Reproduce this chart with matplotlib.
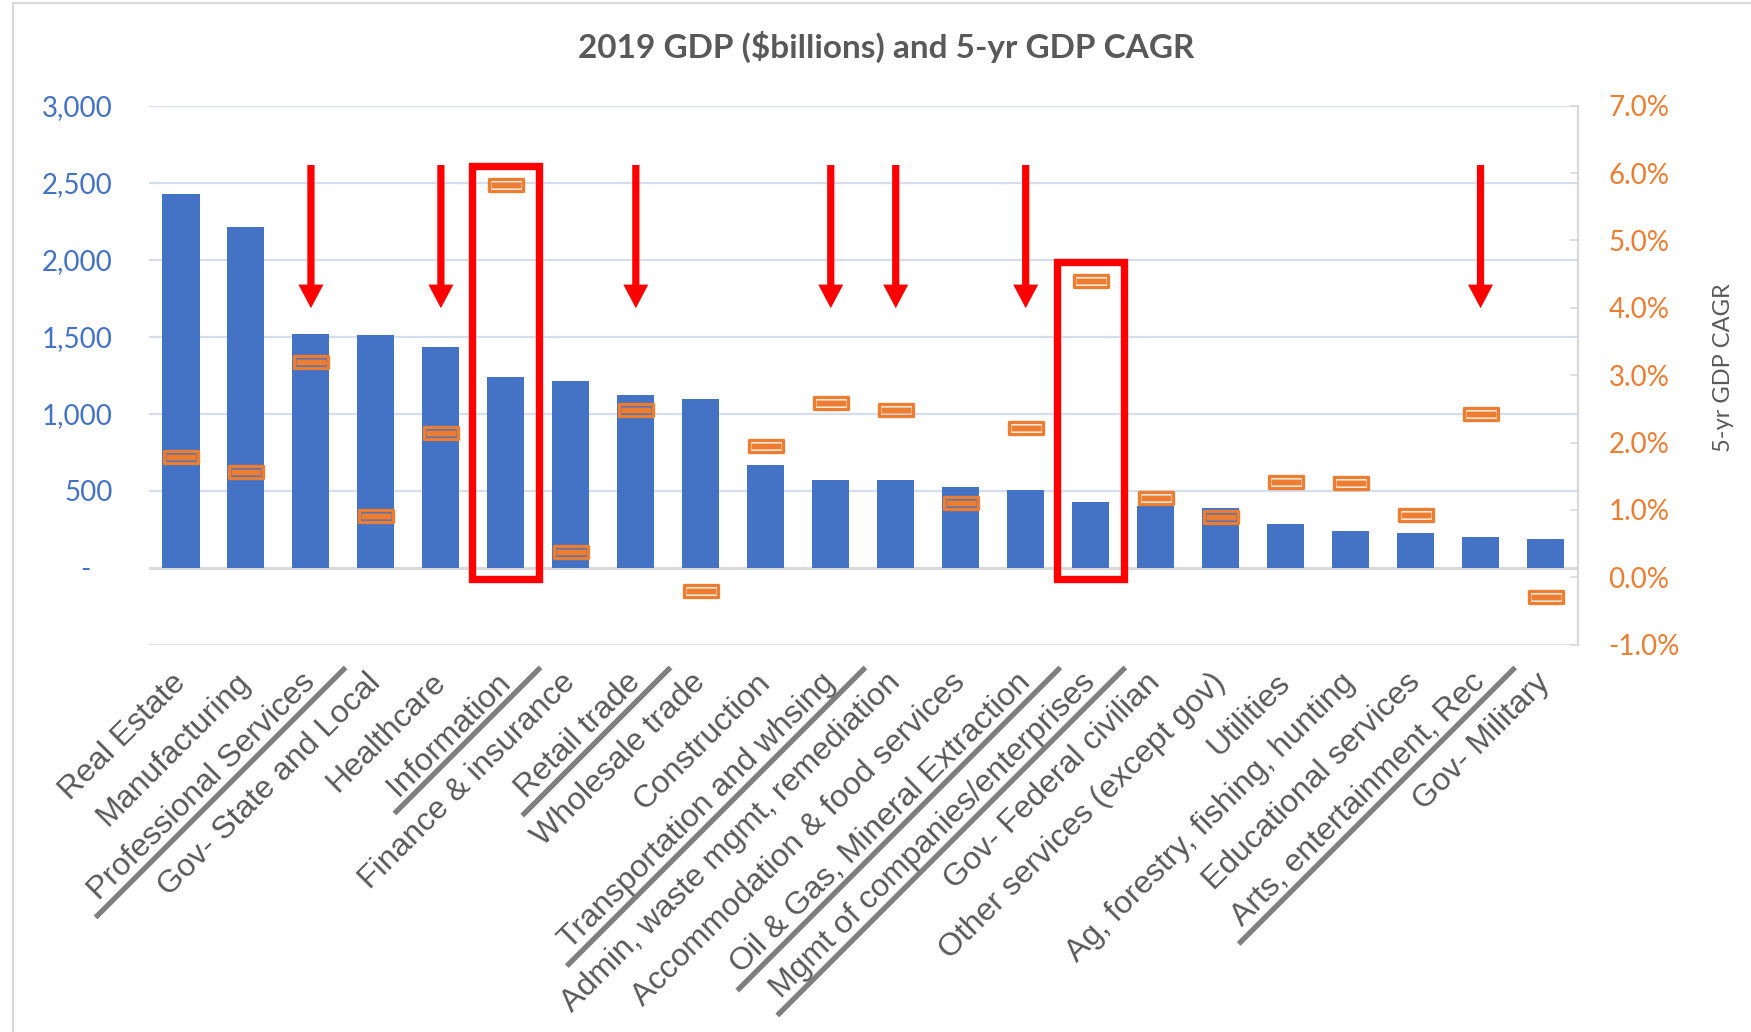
import matplotlib.pyplot as plt
from matplotlib.path import Path
from matplotlib.patches import Rectangle
from matplotlib.lines import Line2D
import numpy as np

# data
categories = ['Real Estate', 'Manufacturing', 'Professional Services', 'Gov- State and Local',
              'Healthcare', 'Information', 'Finance & insurance', 'Retail trade', 'Wholesale trade',
              'Construction', 'Transportation and whsing', 'Admin, waste mgmt, remediation',
              'Accommodation & food services', 'Oil & Gas, Mineral Extraction',
              'Mgmt of companies/enterprises', 'Gov- Federal civilian', 'Other services (except gov)',
              'Utilities', 'Ag, forestry, fishing, hunting', 'Educational services',
              'Arts, entertainment, Rec', 'Gov- Military']
gdp = [2427, 2212, 1518, 1511, 1433, 1240, 1210, 1123, 1094, 667, 572, 572,
       522, 503, 427, 400, 390, 282, 240, 223, 199, 188]
cagr = [1.78, 1.57, 3.19, 0.91, 2.14, 5.82, 0.37, 2.49, -0.21, 1.95, 2.59, 2.48,
        1.10, 2.22, 4.40, 1.17, 0.90, 1.41, 1.40, 0.92, 2.42, -0.29]
left_ticks = [0, 500, 1000, 1500, 2000, 2500, 3000]
right_ticks = [-1, 0, 1, 2, 3, 4, 5, 6, 7]
arrow_idx = [2, 4, 7, 10, 11, 13, 20]
box_idx = [5, 14]
underlined = [2, 5, 7, 10, 13, 14, 20]

blue = '#4472C4'
orange = '#ED7D31'
gray = '#595959'

W, H = 1751, 1032
fig = plt.figure(figsize=(W / 100, H / 100), dpi=100)
ax = fig.add_axes([148.5 / W, 1 - 644.7 / H, (1578 - 148.5) / W, (644.7 - 105.7) / H])
ax2 = ax.twinx()

xs = np.arange(len(categories))
ax.bar(xs, gdp, width=0.57, color=blue, zorder=2)
ax.set_xlim(-0.5, len(categories) - 0.5)
ax.set_ylim(-500, 3000)
ax2.set_ylim(-1, 7)

# grid
for v in range(-500, 3001, 500):
    ax.axhline(v, color='#D6DDEE', lw=1.6, zorder=1)
ax.axhline(0, color='#D9D9D9', lw=2.2, zorder=1.5)

for s in ['top', 'left', 'bottom']:
    ax.spines[s].set_visible(False)
    ax2.spines[s].set_visible(False)
ax.spines['right'].set_visible(False)
ax2.spines['right'].set_color('#D9D9D9')
ax2.spines['right'].set_linewidth(1.6)

ax.set_yticks(left_ticks)
ax.set_yticklabels([f'{v:,}' if v else '-   ' for v in left_ticks],
                   fontsize=20, color=blue, family='Lato')
ax.tick_params(axis='y', length=0, pad=26)

ax2.set_yticks(right_ticks)
ax2.set_yticklabels([f'{v:.1f}%' for v in right_ticks], fontsize=20, color=orange, family='Lato')
ax2.tick_params(axis='y', direction='in', length=6, width=1.2, color='#D9D9D9', pad=22)

ax.set_xticks(xs)
ax.set_xticklabels(categories, rotation=45, ha='right', va='center', rotation_mode='anchor',
                   fontsize=23, color=gray, family='Liberation Sans')
ax.tick_params(axis='x', length=0, pad=24)

# markers: orange rectangle outline with a thin gap and an orange core
outer = Path([(-1, -0.364), (1, -0.364), (1, 0.364), (-1, 0.364), (-1, -0.364)],
             [Path.MOVETO, Path.LINETO, Path.LINETO, Path.LINETO, Path.CLOSEPOLY])
inner = Path([(-1, -0.23), (1, -0.23), (1, 0.23), (-1, 0.23), (-1, -0.23)],
             [Path.MOVETO, Path.LINETO, Path.LINETO, Path.LINETO, Path.CLOSEPOLY])
ax2.plot(xs, cagr, ls='none', marker=outer, ms=25.0, mfc='none', mec=orange, mew=2.4, zorder=3)
ax2.plot(xs, cagr, ls='none', marker=inner, ms=21.6, mfc=orange, mec='none', zorder=3)

# red arrows and boxes
for i in arrow_idx:
    ax.annotate('', xy=(i, 1685), xytext=(i, 2615),
                arrowprops=dict(facecolor='#FF0000', edgecolor='none', width=5.2,
                                headwidth=18, headlength=17, shrink=0), zorder=5)
box_tops = [2608, 1985]
for i, top in zip(box_idx, box_tops):
    ax.add_patch(Rectangle((i - 0.515, -72), 1.03, top + 72, fill=False,
                           edgecolor='#FF0000', lw=5.3, zorder=5, clip_on=False))

# title and right axis label
fig.text(886 / W, 1 - 47 / H, '2019 GDP ($billions) and 5-yr GDP CAGR', fontsize=24,
         fontweight='bold', color=gray, family='Lato', ha='center', va='center')
fig.text(1723 / W, 1 - 368 / H, '5-yr GDP CAGR', fontsize=17, color=gray, family='Lato',
         rotation=90, ha='center', va='center')

# chart border
fig.patches.append(Rectangle((13 / W, -0.1), 2, 1.1 - 3 / H, fill=False, edgecolor='#D9D9D9',
                             lw=1.5, transform=fig.transFigure, figure=fig))

# grey underlines below some category labels
fig.canvas.draw()
renderer = fig.canvas.get_renderer()
labels = ax.get_xticklabels()
u = np.array([np.sqrt(0.5), np.sqrt(0.5)])
n = np.array([np.sqrt(0.5), -np.sqrt(0.5)])
for i in underlined:
    t = labels[i]
    w, h, d = renderer.get_text_width_height_descent(t.get_text(), t.get_fontproperties(), ismath=False)
    anchor = np.array(t.get_transform().transform(t.get_position()))
    p1 = anchor + u * 32 + n * 17
    p2 = anchor - u * (w + 14) + n * 17
    (x1, y1), (x2, y2) = fig.transFigure.inverted().transform([p1, p2])
    fig.add_artist(Line2D([x1, x2], [y1, y2], color='#7F7F7F', lw=3.8, solid_capstyle='butt'))

fig.savefig('out.png', dpi=100)
